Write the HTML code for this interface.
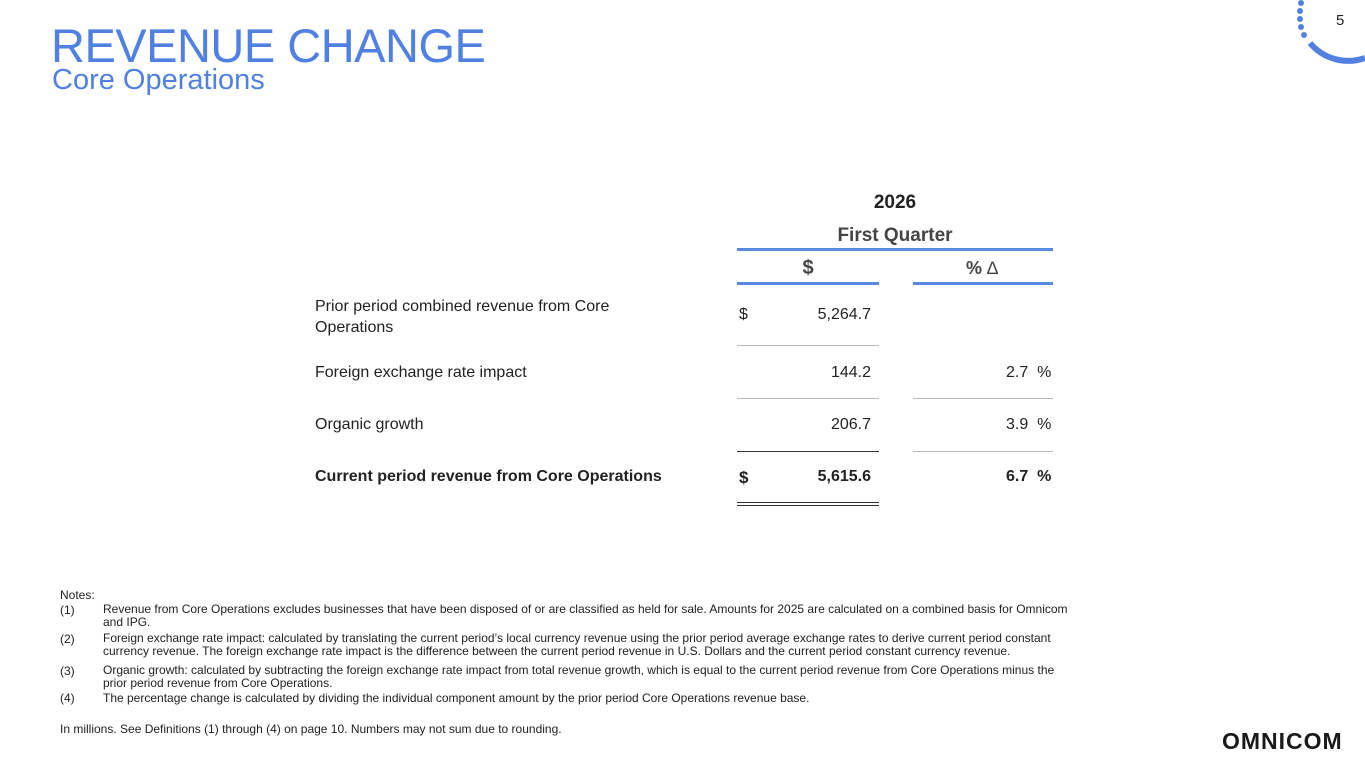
<!DOCTYPE html>
<html><head><meta charset="utf-8"><style>
body{margin:0;width:1365px;height:768px;background:#fff;position:relative;overflow:hidden;font-family:"Liberation Sans",sans-serif;color:#222}
.a{position:absolute;white-space:nowrap}
.t{color:#4f80e2}
.r{text-align:right}
.line{position:absolute;height:1px;background:#bbb}
.bl{position:absolute;height:3px;background:#5b88e0}
.n{font-size:12px;color:#222}
</style></head><body>
<div class="a t" style="left:51px;top:18px;font-size:47px;letter-spacing:-0.5px">REVENUE CHANGE</div>
<div class="a t" style="left:52px;top:64px;font-size:29px">Core Operations</div>
<svg class="a" style="left:1280px;top:0" width="85" height="70">
<g fill="#4f80e2"><circle cx="21" cy="3" r="3"/><circle cx="20" cy="11" r="3"/><circle cx="20" cy="19" r="3"/><circle cx="21" cy="27" r="3"/><circle cx="24" cy="35" r="3"/></g>
<path d="M30 43 A 50 50 0 0 0 85 58" stroke="#4f80e2" stroke-width="6" fill="none"/>
</svg>
<div class="a" style="left:1336px;top:12px;font-size:15px">5</div>
<div class="a" style="left:737px;width:316px;top:192px;text-align:center;font-weight:bold;font-size:19px">2026</div>
<div class="a" style="left:737px;width:316px;top:225px;text-align:center;font-weight:bold;font-size:19px;color:#444">First Quarter</div>
<div class="bl" style="left:737px;width:316px;top:248px"></div>
<div class="a" style="left:737px;width:142px;top:257px;text-align:center;font-weight:bold;font-size:20px;color:#444">$</div>
<div class="a" style="left:966px;top:258px;font-size:18px;color:#444"><b>%</b> &#8710;</div>
<div class="bl" style="left:737px;width:142px;top:282px"></div>
<div class="bl" style="left:913px;width:140px;top:282px"></div>
<div class="a" style="left:315px;top:296px;font-size:16px;line-height:21px">Prior period combined revenue from Core<br>Operations</div>
<div class="a" style="left:739px;top:306px;font-size:16px">$</div>
<div class="a r" style="left:760px;width:111px;top:306px;font-size:16px">5,264.7</div>
<div class="line" style="left:737px;width:142px;top:345px"></div>
<div class="a" style="left:315px;top:364px;font-size:16px">Foreign exchange rate impact</div>
<div class="a r" style="left:760px;width:111px;top:364px;font-size:16px">144.2</div>
<div class="a" style="left:1006px;top:364px;font-size:16px">2.7&nbsp; %</div>
<div class="line" style="left:737px;width:142px;top:398px"></div>
<div class="line" style="left:913px;width:140px;top:398px"></div>
<div class="a" style="left:315px;top:416px;font-size:16px">Organic growth</div>
<div class="a r" style="left:760px;width:111px;top:416px;font-size:16px">206.7</div>
<div class="a" style="left:1006px;top:416px;font-size:16px">3.9&nbsp; %</div>
<div class="line" style="left:737px;width:142px;top:451px;background:#333"></div>
<div class="line" style="left:913px;width:140px;top:451px"></div>
<div class="a" style="left:315px;top:468px;font-size:16px;font-weight:bold">Current period revenue from Core Operations</div>
<div class="a" style="left:739px;top:468px;font-size:17px;font-weight:bold">$</div>
<div class="a r" style="left:760px;width:111px;top:468px;font-size:16px;font-weight:bold">5,615.6</div>
<div class="a" style="left:1006px;top:468px;font-size:16px;font-weight:bold">6.7&nbsp; %</div>
<div class="line" style="left:737px;width:142px;top:502px;background:#333"></div>
<div class="line" style="left:737px;width:142px;top:505px;background:#333"></div>
<div class="a n" style="left:60px;top:588px">Notes:</div>
<div class="a n" style="left:60px;top:603px">(1)</div>
<div class="a n" style="left:103px;top:603px;line-height:13px">Revenue from Core Operations excludes businesses that have been disposed of or are classified as held for sale. Amounts for 2025 are calculated on a combined basis for Omnicom<br>and IPG.</div>
<div class="a n" style="left:60px;top:632px">(2)</div>
<div class="a n" style="left:103px;top:632px;line-height:13px">Foreign exchange rate impact: calculated by translating the current period’s local currency revenue using the prior period average exchange rates to derive current period constant<br>currency revenue. The foreign exchange rate impact is the difference between the current period revenue in U.S. Dollars and the current period constant currency revenue.</div>
<div class="a n" style="left:60px;top:664px">(3)</div>
<div class="a n" style="left:103px;top:664px;line-height:13px">Organic growth: calculated by subtracting the foreign exchange rate impact from total revenue growth, which is equal to the current period revenue from Core Operations minus the<br>prior period revenue from Core Operations.</div>
<div class="a n" style="left:60px;top:691px">(4)</div>
<div class="a n" style="left:103px;top:691px">The percentage change is calculated by dividing the individual component amount by the prior period Core Operations revenue base.</div>
<div class="a n" style="left:60px;top:722px">In millions. See Definitions (1) through (4) on page 10. Numbers may not sum due to rounding.</div>
<div class="a" style="left:1222px;top:728px;font-size:23px;font-weight:900;letter-spacing:1px;color:#1a1a1a">OMNICOM</div>
</body></html>
